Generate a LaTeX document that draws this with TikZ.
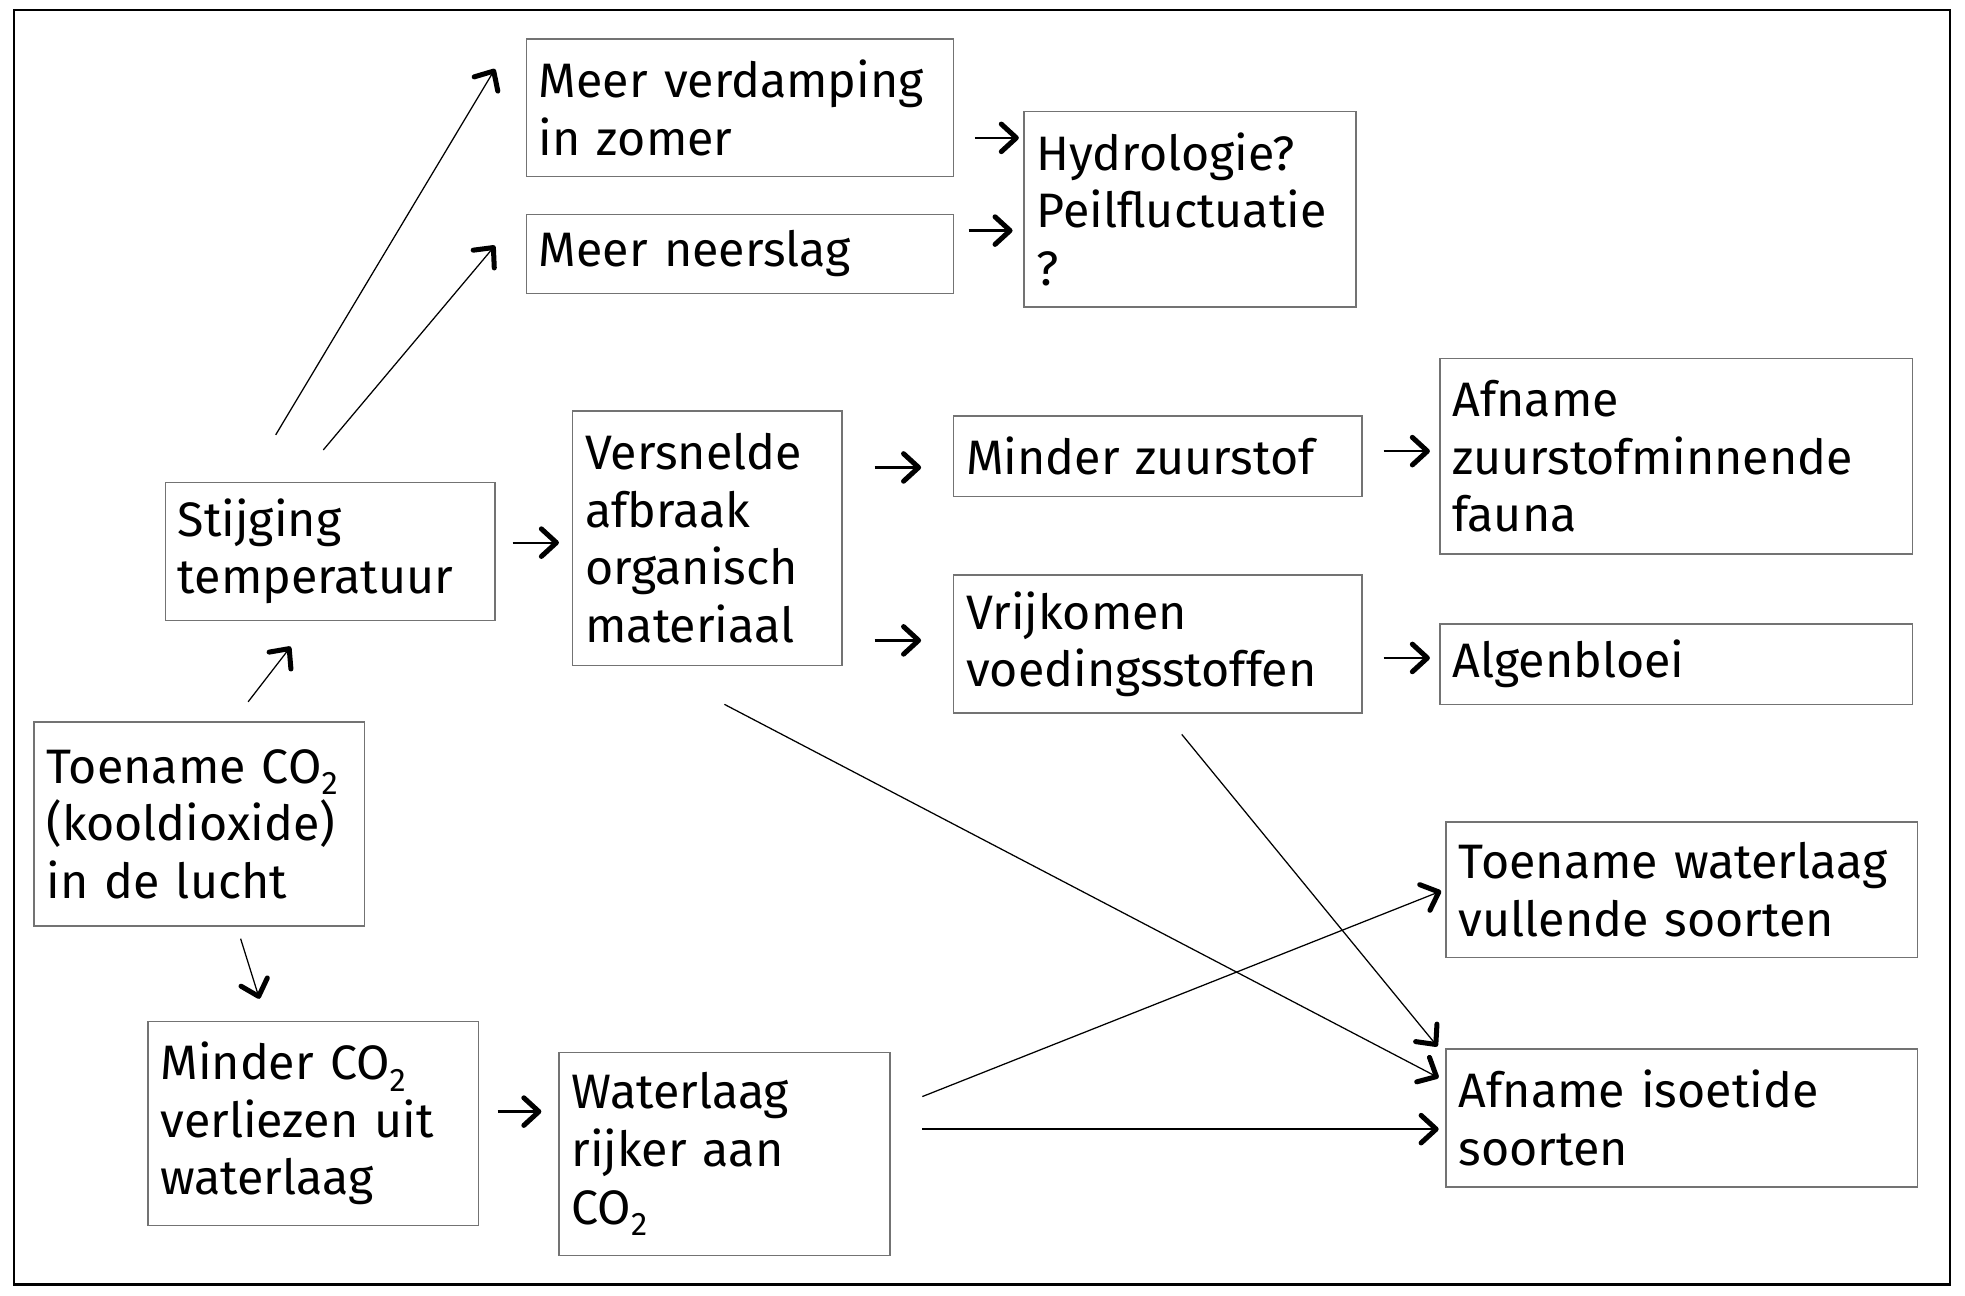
\documentclass[tikz,border=0pt]{standalone}
\usepackage{fontspec}
\setmainfont{Fira Sans}
\usetikzlibrary{arrows.meta}
\newcommand\subtwo{\raisebox{-0.45ex}{\fontsize{13}{13}\selectfont 2}}
\begin{document}
\begin{tikzpicture}[x=0.5pt,y=-0.5pt,
  box/.style={draw=black!55, line width=0.6pt, inner xsep=5pt, inner ysep=0pt,
    align=left, font=\fontsize{19.3}{23}\selectfont},
  arr/.style={line width=0.5pt, -{Straight Barb[round,length=6pt,width=11pt,line width=2pt]}},
  arrs/.style={arr, line width=0.9pt}]
\useasboundingbox (0,0) rectangle (1568,1034);
\draw[line width=1pt] (11,8) rectangle (1556,1025);
% boxes
\node[box, minimum width=170.5pt, minimum height=55pt, text width=160.5pt] (verd) at (590.5,86) {Meer verdamping\\in zomer};
\node[box, minimum width=170.5pt, minimum height=31.5pt, text width=160.5pt] (neer) at (590.5,202.5) {Meer neerslag};
\node[box, minimum width=132.5pt, minimum height=78pt, text width=122.5pt] (hydro) at (949.5,167) {Hydrologie?\\Peilfluctuatie\\?};
\node[box, minimum width=131.5pt, minimum height=55pt, text width=121.5pt] (stij) at (263.5,440) {Stijging\\temperatuur};
\node[box, minimum width=107.5pt, minimum height=101.5pt, text width=97.5pt] (vers) at (564.5,429.5) {Versnelde\\afbraak\\organisch\\materiaal};
\node[box, minimum width=163pt, minimum height=32pt, text width=153pt] (zuur) at (924,364) {Minder zuurstof};
\node[box, minimum width=188.5pt, minimum height=78pt, text width=178.5pt] (fauna) at (1337.5,364) {Afname\\zuurstofminnende\\fauna};
\node[box, minimum width=163pt, minimum height=55pt, text width=153pt] (vrij) at (924,514) {Vrijkomen\\voedingsstoffen};
\node[box, minimum width=188.5pt, minimum height=32pt, text width=178.5pt] (alg) at (1337.5,530) {Algenbloei};
\node[box, minimum width=132pt, minimum height=81.5pt, text width=122pt] (toe) at (159,657.5) {Toename CO\subtwo\\(kooldioxide)\\in de lucht};
\node[box, minimum width=132pt, minimum height=81.5pt, text width=122pt] (mind) at (250,896.5) {Minder CO\subtwo\\verliezen uit\\waterlaag};
\node[box, minimum width=132pt, minimum height=81pt, text width=122pt] (wat) at (578,921) {Waterlaag\\rijker aan\\CO\subtwo};
\node[box, minimum width=188pt, minimum height=54pt, text width=178pt] (toew) at (1342,710) {Toename waterlaag\\vullende soorten};
\node[box, minimum width=188pt, minimum height=55pt, text width=178pt] (afi) at (1342,892) {Afname isoetide\\soorten};
% arrow end points
\coordinate (a1s) at (220,347);  \coordinate (a1e) at (395,55);
\coordinate (a2s) at (258,359);  \coordinate (a2e) at (395,196);
\coordinate (a3s) at (198,560);  \coordinate (a3e) at (232,516);
\coordinate (a4s) at (192,749);  \coordinate (a4e) at (207,797);
\coordinate (a5s) at (409,433);  \coordinate (a5e) at (446,433);
\coordinate (a6s) at (778,110);  \coordinate (a6e) at (813,110);
\coordinate (a7s) at (773,184);  \coordinate (a7e) at (808,184);
\coordinate (a8s) at (698,373);  \coordinate (a8e) at (735,373);
\coordinate (a9s) at (698,511);  \coordinate (a9e) at (735,511);
\coordinate (a10s) at (1104,360); \coordinate (a10e) at (1141,360);
\coordinate (a11s) at (1104,525); \coordinate (a11e) at (1141,525);
\coordinate (a12s) at (397,887); \coordinate (a12e) at (432,887);
\coordinate (a13s) at (578,562); \coordinate (a13e) at (1148,860);
\coordinate (a14s) at (943,586); \coordinate (a14e) at (1147,835);
\coordinate (a15s) at (736,875); \coordinate (a15e) at (1150,711);
\coordinate (a16s) at (736,901); \coordinate (a16e) at (1148,901);
% arrows
\draw[arr] (a1s) -- (a1e);
\draw[arr] (a2s) -- (a2e);
\draw[arr] (a3s) -- (a3e);
\draw[arr] (a4s) -- (a4e);
\draw[arrs] (a5s) -- (a5e);
\draw[arrs] (a6s) -- (a6e);
\draw[arrs] (a7s) -- (a7e);
\draw[arrs] (a8s) -- (a8e);
\draw[arrs] (a9s) -- (a9e);
\draw[arrs] (a10s) -- (a10e);
\draw[arrs] (a11s) -- (a11e);
\draw[arrs] (a12s) -- (a12e);
\draw[arr] (a13s) -- (a13e);
\draw[arr] (a14s) -- (a14e);
\draw[arr] (a15s) -- (a15e);
\draw[arrs] (a16s) -- (a16e);
\end{tikzpicture}
\end{document}
